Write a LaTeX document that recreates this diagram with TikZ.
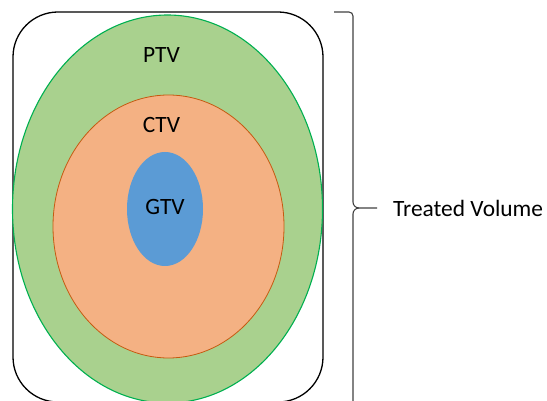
\documentclass[tikz,border=0pt]{standalone}
\usepackage{fontspec}
\setmainfont{Carlito}
\definecolor{ptvfill}{HTML}{A9D18E}
\definecolor{ptvline}{HTML}{00B050}
\definecolor{ctvfill}{HTML}{F4B183}
\definecolor{ctvline}{HTML}{C55A11}
\definecolor{gtvfill}{HTML}{5B9BD5}
\definecolor{bracecol}{HTML}{404040}
\begin{document}
\begin{tikzpicture}[x=1pt,y=-1pt,
  lbl/.style={font=\fontsize{23.4}{26}\selectfont, text=black, inner sep=0pt}]
\useasboundingbox (0,0) rectangle (547,401);
\clip (0,0) rectangle (547,401);
\draw[black, line width=1.3pt, rounded corners=45pt] (13,12) rectangle (323,402);
\fill[ptvfill] (167.5,209) ellipse [x radius=155, y radius=194];
\draw[ptvline, line width=1.1pt] (167.5,209) ellipse [x radius=155, y radius=194];
\fill[ctvfill] (168.5,226.5) ellipse [x radius=115.5, y radius=131.5];
\draw[ctvline, line width=0.8pt] (168.5,226.5) ellipse [x radius=115.5, y radius=131.5];
\fill[gtvfill] (165,209) ellipse [x radius=38, y radius=57];
\node[lbl] (ptv) at (161.5,55) {PTV};
\node[lbl] (ctv) at (161.5,125) {CTV};
\node[lbl] (gtv) at (165,207) {GTV};
\draw[bracecol, line width=1.1pt] (334,12) -- (349,12) to[out=0,in=90] (353,16) -- (353,202)
  to[out=-90,in=180] (359,208) -- (377,208);
\draw[bracecol, line width=1.1pt] (359,208) to[out=180,in=90] (353,214) -- (353,405);
\node[lbl, anchor=west] (tv) at (393,208) {Treated Volume};
\end{tikzpicture}
\end{document}
